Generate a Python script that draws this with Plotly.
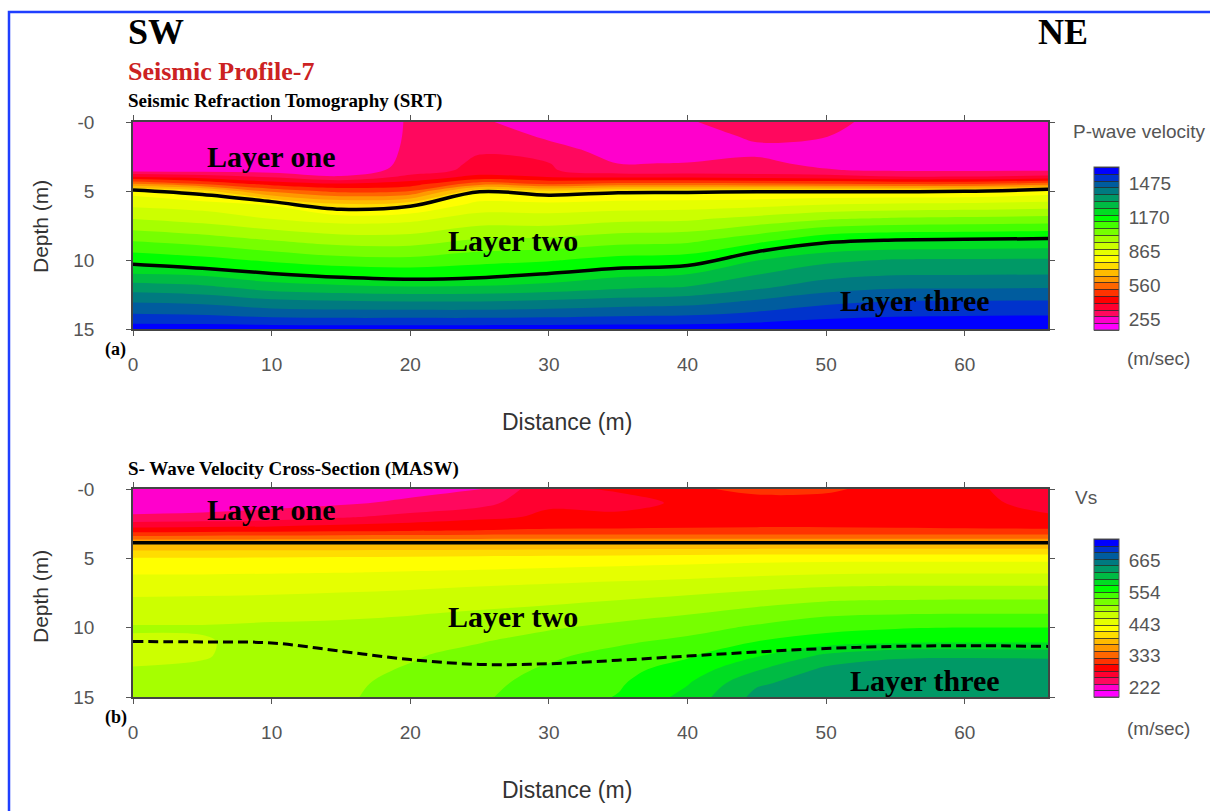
import plotly.graph_objects as go

W, H = 1210, 811

# ---------------- data ----------------
dist = [0, 5, 10, 15, 20, 25, 30, 35, 40, 45, 50, 55, 60, 66]

# P-wave velocity (m/s), rows = depth_p, columns = dist
depth_p = [0, 1, 2, 3, 3.5, 4, 4.5, 5, 6, 7, 8.5, 10, 11, 12, 13, 14, 15]
vp = [
    [245, 245, 240, 232, 282, 283, 255, 250, 272, 305, 292, 255, 250, 250],
    [245, 245, 240, 232, 283, 300, 270, 252, 258, 285, 278, 252, 250, 250],
    [245, 245, 240, 235, 285, 330, 290, 262, 262, 268, 270, 252, 250, 250],
    [245, 245, 242, 236, 290, 352, 340, 276, 278, 285, 268, 256, 255, 258],
    [250, 248, 245, 238, 300, 360, 345, 295, 295, 292, 280, 270, 270, 272],
    [410, 380, 335, 285, 360, 420, 400, 390, 390, 380, 370, 345, 345, 360],
    [590, 520, 440, 410, 430, 560, 520, 545, 545, 540, 530, 520, 520, 560],
    [800, 730, 560, 500, 520, 755, 710, 755, 755, 758, 760, 760, 760, 790],
    [875, 860, 820, 720, 750, 850, 850, 855, 860, 870, 890, 900, 905, 915],
    [946, 922, 886, 860, 870, 914, 911, 930, 936, 967, 1000, 1016, 1022, 1030],
    [1059, 1036, 1003, 975, 975, 1012, 1018, 1041, 1050, 1104, 1170, 1190, 1195, 1200],
    [1172, 1150, 1120, 1092, 1086, 1110, 1125, 1152, 1164, 1250, 1300, 1318, 1320, 1322],
    [1253, 1240, 1197, 1180, 1170, 1175, 1197, 1235, 1250, 1310, 1350, 1368, 1370, 1372],
    [1347, 1330, 1290, 1270, 1260, 1265, 1280, 1305, 1320, 1365, 1410, 1430, 1432, 1434],
    [1430, 1420, 1390, 1380, 1375, 1375, 1385, 1400, 1410, 1445, 1482, 1498, 1500, 1502],
    [1505, 1500, 1480, 1475, 1475, 1475, 1480, 1490, 1495, 1515, 1540, 1552, 1555, 1557],
    [1590, 1590, 1590, 1590, 1590, 1590, 1590, 1590, 1590, 1597, 1605, 1608, 1610, 1610],
]

# S-wave velocity (m/s), rows = depth_s, columns = dist
depth_s = [0, 1, 2, 3, 3.9, 5, 6, 7, 8, 9, 10, 11, 12, 13, 14, 15]
vs = [
    [225, 225, 225, 226, 228, 234, 275, 285, 300, 310, 308, 295, 285, 272],
    [225, 226, 228, 232, 240, 250, 278, 270, 287, 295, 295, 292, 286, 276],
    [238, 240, 245, 255, 265, 275, 285, 288, 292, 295, 295, 293, 290, 283],
    [293, 295, 297, 300, 302, 305, 307, 307, 307, 307, 307, 307, 307, 307],
    [372, 372, 372, 372, 372, 372, 372, 372, 372, 372, 372, 372, 372, 372],
    [420, 420, 421, 422, 423, 425, 427, 429, 431, 433, 434, 434, 434, 434],
    [438, 438, 439, 440, 442, 444, 447, 450, 453, 457, 460, 461, 461, 461],
    [455, 455, 456, 458, 460, 463, 467, 471, 475, 480, 485, 487, 487, 487],
    [466, 467, 468, 470, 473, 477, 481, 486, 492, 500, 507, 509, 510, 510],
    [480, 480, 481, 482, 485, 490, 495, 501, 508, 518, 528, 531, 532, 532],
    [488, 488, 490, 492, 495, 500, 507, 515, 523, 536, 548, 553, 555, 555],
    [484, 485, 492, 496, 501, 508, 518, 528, 538, 555, 566, 572, 574, 574],
    [484, 485, 494, 500, 507, 516, 528, 540, 552, 575, 605, 620, 621, 620],
    [487, 489, 497, 503, 511, 522, 535, 548, 564, 598, 628, 632, 633, 633],
    [490, 491, 500, 505, 515, 526, 540, 552, 576, 620, 634, 636, 637, 637],
    [492, 493, 503, 506, 518, 529, 543, 556, 585, 630, 636, 638, 638, 638],
]

# interpreted layer boundaries (depth, m) along dist
srt_boundary_1 = [4.93, 5.25, 5.77, 6.32, 6.1, 5.05, 5.3, 5.12, 5.1, 5.05, 5.05, 5.05, 5.02, 4.88]
srt_boundary_2 = [10.3, 10.6, 10.97, 11.25, 11.4, 11.28, 10.97, 10.6, 10.4, 9.4, 8.75, 8.55, 8.5, 8.45]
masw_boundary_1 = [3.87, 3.87, 3.87, 3.87, 3.87, 3.87, 3.87, 3.87, 3.87, 3.87, 3.87, 3.87, 3.87, 3.87]
masw_boundary_2 = [11.0, 11.03, 11.1, 11.7, 12.3, 12.65, 12.6, 12.35, 12.05, 11.75, 11.5, 11.35, 11.3, 11.35]

x_ticks = [0, 10, 20, 30, 40, 50, 60]
depth_ticks = [0, 5, 10, 15]
depth_ticktext = ["-0", "5", "10", "15"]
vp_ticks = [255, 560, 865, 1170, 1475]
vs_ticks = [222, 333, 443, 554, 665]

band_colors = ['#ff00ff', '#ff00cc', '#ff085e', '#ff0030', '#ff0000', '#ff3300',
               '#ff6600', '#ff9900', '#ffbb00', '#ffdd00', '#ffff00', '#e6ff00',
               '#ccff00', '#a6ff00', '#77ff00', '#44ff00', '#00ff00', '#00dd22',
               '#00bb44', '#009966', '#007a80', '#005c9e', '#0033cc', '#0000ff']

# ---------------- helpers ----------------
def px(x):
    return x / W

def py(y):
    return 1 - y / H

nb = len(band_colors)
colorscale = []
for i, c in enumerate(band_colors):
    colorscale.append([i / nb, c])
    colorscale.append([(i + 1) / nb, c])

VP_START, VP_SIZE = 155, 61
VS_START, VS_SIZE = 190, 22.8
VP_END = VP_START + nb * VP_SIZE
VS_END = VS_START + nb * VS_SIZE

SANS = "Liberation Sans, Arial, sans-serif"
SERIF = "Liberation Serif, Times New Roman, serif"

fig = go.Figure()

def add_field(z, yv, xa, ya, start, size, end, cb):
    fig.add_trace(go.Contour(
        x=dist, y=yv, z=z, xaxis=xa, yaxis=ya,
        colorscale=colorscale, zmin=start, zmax=end,
        autocontour=False,
        contours=dict(start=start, end=end, size=size, coloring='fill', showlines=False),
        line=dict(width=0, smoothing=1.0),
        showscale=False, hoverinfo='skip'))
    fig.add_trace(go.Contour(
        x=dist, y=yv, z=z, xaxis=xa, yaxis=ya,
        colorscale=colorscale, zmin=start, zmax=end,
        autocontour=False, opacity=0,
        contours=dict(start=start, end=end, size=size, coloring='fill', showlines=True),
        line=dict(width=1, color='rgba(40,40,40,0.8)', smoothing=1.0),
        showscale=True, colorbar=cb, hoverinfo='skip'))

def cbar(top, bottom, ticks):
    return dict(x=px(1094), xanchor='left', xpad=0,
                y=py((top + bottom) / 2), yanchor='middle', ypad=0,
                len=bottom - top, lenmode='pixels',
                thickness=25, thicknessmode='pixels',
                outlinewidth=1, outlinecolor='#555',
                tickvals=ticks, ticks='outside', ticklen=6, tickcolor='rgba(0,0,0,0)',
                tickfont=dict(family=SANS, size=19, color='#555'))

add_field(vp, depth_p, 'x', 'y', VP_START, VP_SIZE, VP_END, cbar(167, 330, vp_ticks))
add_field(vs, depth_s, 'x2', 'y2', VS_START, VS_SIZE, VS_END, cbar(539, 697, vs_ticks))

# boundaries
fig.add_trace(go.Scatter(x=dist, y=srt_boundary_1, xaxis='x', yaxis='y', mode='lines',
                         line=dict(color='black', width=3.5, shape='spline'), hoverinfo='skip'))
fig.add_trace(go.Scatter(x=dist, y=srt_boundary_2, xaxis='x', yaxis='y', mode='lines',
                         line=dict(color='black', width=3.5, shape='spline'), hoverinfo='skip'))
fig.add_trace(go.Scatter(x=dist, y=masw_boundary_1, xaxis='x2', yaxis='y2', mode='lines',
                         line=dict(color='black', width=3.5, shape='spline'), hoverinfo='skip'))
fig.add_trace(go.Scatter(x=dist, y=masw_boundary_2, xaxis='x2', yaxis='y2', mode='lines',
                         line=dict(color='black', width=3, shape='spline', dash='10px,5px'), hoverinfo='skip'))

def xaxis(anchor):
    return dict(domain=[px(133), px(1048)], range=[0, 66], anchor=anchor,
                tickvals=x_ticks, ticks='outside', ticklen=5, tickcolor='#555',
                showline=True, linecolor='#444', linewidth=1.5, mirror='ticks',
                showgrid=False, zeroline=False, ticklabelstandoff=12,
                tickfont=dict(family=SANS, size=19, color='#555'))

def yaxis(top_px, bottom_px, anchor):
    return dict(domain=[py(bottom_px), py(top_px)], range=[15, 0], anchor=anchor,
                tickvals=depth_ticks, ticktext=depth_ticktext, ticks='outside', ticklen=5,
                tickcolor='#555', showline=True, linecolor='#444', linewidth=1.5,
                mirror='ticks', showgrid=False, zeroline=False, ticklabelstandoff=28,
                tickfont=dict(family=SANS, size=19, color='#555'))

fig.update_layout(
    width=W, height=H, margin=dict(l=0, r=0, t=0, b=0, pad=0, autoexpand=False),
    paper_bgcolor='white', plot_bgcolor='white', showlegend=False,
    xaxis=xaxis('y'), yaxis=yaxis(122, 329, 'x'),
    xaxis2=xaxis('y2'), yaxis2=yaxis(489, 697, 'x2'),
)

ann = []
def text(t, x, y, size, color='black', family=SERIF, xanchor='left', angle=0, xref='paper', yref='paper'):
    ann.append(dict(text=t, x=px(x) if xref == 'paper' else x, y=py(y) if yref == 'paper' else y,
                    xref=xref, yref=yref, xanchor=xanchor, yanchor='middle', showarrow=False,
                    textangle=angle, font=dict(family=family, size=size, color=color)))

text('<b>SW</b>', 126, 32, 36)
text('<b>NE</b>', 1036, 32, 36)
text('<b>Seismic Profile-7</b>', 126, 72, 26, color='#cc2222')
text('<b>Seismic Refraction Tomography (SRT)</b>', 126, 101, 19)
text('<b>S- Wave Velocity Cross-Section (MASW)</b>', 126, 469, 19)
text('<b>(a)</b>', 103, 349, 18)
text('<b>(b)</b>', 103, 717, 18)
text('Depth (m)', 40, 227, 21, color='#333', family=SANS, xanchor='center', angle=-90)
text('Depth (m)', 40, 597, 21, color='#333', family=SANS, xanchor='center', angle=-90)
text('Distance (m)', 567, 422, 23, color='#333', family=SANS, xanchor='center')
text('Distance (m)', 567, 790, 23, color='#333', family=SANS, xanchor='center')
text('P-wave velocity', 1071, 131, 19, color='#555', family=SANS)
text('(m/sec)', 1125, 358, 19, color='#555', family=SANS)
text('Vs', 1073, 497, 19, color='#555', family=SANS)
text('(m/sec)', 1125, 728, 19, color='#555', family=SANS)

# layer labels in data coordinates
text('<b>Layer one</b>', 10.0, 2.5, 30, xanchor='center', xref='x', yref='y')
text('<b>Layer two</b>', 27.4, 8.6, 30, xanchor='center', xref='x', yref='y')
text('<b>Layer three</b>', 56.4, 12.9, 30, xanchor='center', xref='x', yref='y')
text('<b>Layer one</b>', 10.0, 1.45, 30, xanchor='center', xref='x2', yref='y2')
text('<b>Layer two</b>', 27.4, 9.2, 30, xanchor='center', xref='x2', yref='y2')
text('<b>Layer three</b>', 57.1, 13.8, 30, xanchor='center', xref='x2', yref='y2')

fig.update_layout(annotations=ann)

fig.add_shape(type='rect', xref='paper', yref='paper',
              x0=px(9), y0=-0.05, x1=1.05, y1=py(12),
              line=dict(color='#1f3fff', width=2.5), fillcolor='rgba(0,0,0,0)')

fig.write_html("out.html")
